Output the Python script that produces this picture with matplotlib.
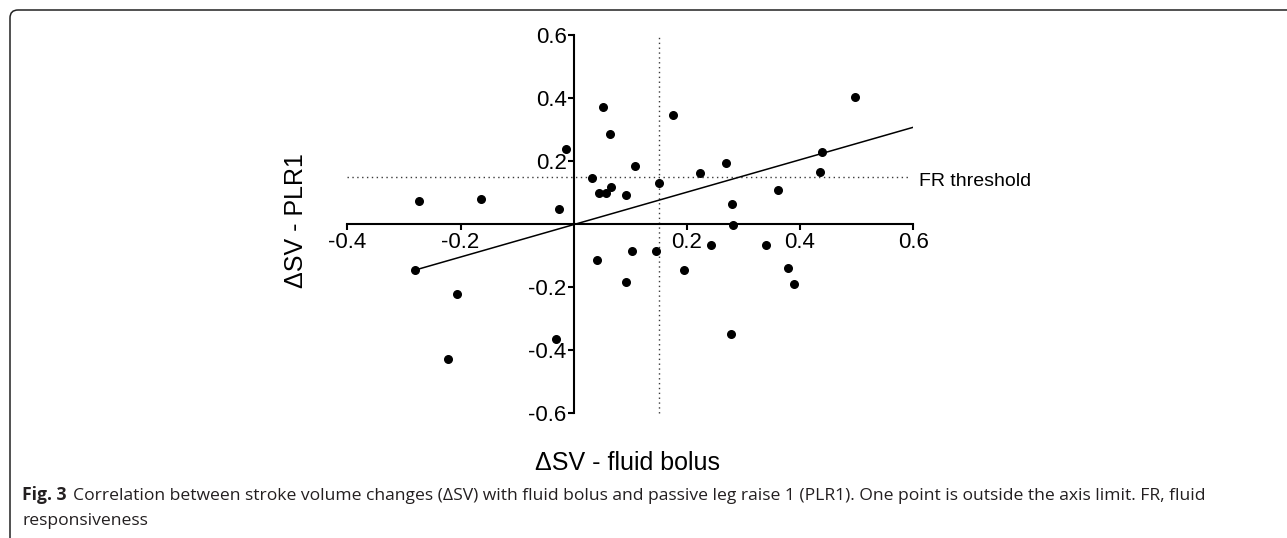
import numpy as np
import matplotlib
matplotlib.use("Agg")
import matplotlib.pyplot as plt
from matplotlib.patches import FancyBboxPatch
from matplotlib.transforms import IdentityTransform

plt.rcParams['font.family'] = ['Liberation Sans', 'DejaVu Sans']
plt.rcParams['axes.unicode_minus'] = False

# data
sv_bolus = [-0.273, -0.163, -0.026, -0.013, 0.051, 0.064, 0.033, 0.045, 0.058, 0.066,
            0.092, 0.109, 0.150, -0.280, -0.206, 0.042, 0.103, 0.092, 0.146, -0.222,
            -0.032, 0.175, 0.497, 0.439, 0.435, 0.269, 0.223, 0.361, 0.280, 0.282,
            0.242, 0.340, 0.195, 0.379, 0.390, 0.278]
sv_plr1 = [0.073, 0.079, 0.049, 0.238, 0.370, 0.285, 0.147, 0.099, 0.099, 0.117,
           0.093, 0.184, 0.129, -0.146, -0.222, -0.114, -0.087, -0.184, -0.087, -0.430,
           -0.366, 0.346, 0.402, 0.230, 0.165, 0.193, 0.161, 0.108, 0.062, -0.004,
           -0.068, -0.066, -0.145, -0.141, -0.190, -0.349]
fit_x = [-0.28, 0.60]
fit_y = [-0.146, 0.307]
fr_threshold = 0.15
xticks = [-0.4, -0.2, 0.2, 0.4, 0.6]
yticks = [-0.6, -0.4, -0.2, 0.2, 0.4, 0.6]

fig = plt.figure(figsize=(12.87, 5.38), dpi=100)
ax = fig.add_axes([0.2699, 0.2323, 0.4396, 0.7026])

ax.scatter(sv_bolus, sv_plr1, s=30, color='black', zorder=4, clip_on=False)
ax.plot(fit_x, fit_y, color='black', lw=1.1, zorder=3)
ax.plot([-0.4, 0.595], [fr_threshold, fr_threshold], color='#3a3a3a', lw=1.0,
        linestyle=(0, (1, 2.5)), clip_on=False)
ax.plot([fr_threshold, fr_threshold], [-0.6, 0.6], color='#3a3a3a', lw=1.0,
        linestyle=(0, (1, 2.5)), clip_on=False)
ax.text(0.61, 0.135, 'FR threshold', fontsize=14, va='center', ha='left')

ax.set_xlim(-0.4, 0.6)
ax.set_ylim(-0.6, 0.6)
for side in ['top', 'right']:
    ax.spines[side].set_visible(False)
ax.spines['left'].set_position(('data', 0))
ax.spines['bottom'].set_position(('data', 0))
for side in ['left', 'bottom']:
    ax.spines[side].set_linewidth(1.5)
ax.set_xticks(xticks)
ax.set_yticks(yticks)
ax.set_xticklabels([f'{v:.1f}' for v in xticks])
ax.set_yticklabels([f'{v:.1f}' for v in yticks])
ax.tick_params(axis='both', direction='out', length=4.5, width=1.5, labelsize=16)
ax.tick_params(axis='x', pad=1)
ax.tick_params(axis='y', pad=0.5)

ax.set_xlabel('\u0394SV - fluid bolus', fontsize=18, va='center')
ax.xaxis.set_label_coords(0.496, -0.132)
ax.set_ylabel('\u0394SV - PLR1', fontsize=18, va='center')
ax.yaxis.set_label_coords(-0.0907, 0.51)

# caption
cap_font = ['Open Sans', 'DejaVu Sans']
t1 = fig.text(22 / 1287, 1 - 500 / 538, 'Fig. 3', fontsize=12.6, weight='bold',
              family=cap_font, color='#231f20', va='baseline')
ax.annotate('Correlation between stroke volume changes (\u0394SV) with fluid bolus and passive '
            'leg raise 1 (PLR1). One point is outside the axis limit. FR, fluid',
            xy=(1, 0), xycoords=t1, xytext=(5, 0), textcoords='offset points',
            fontsize=12.6, family=cap_font, color='#231f20', va='bottom',
            annotation_clip=False)
fig.text(22 / 1287, 1 - 525 / 538, 'responsiveness', fontsize=12.6, family=cap_font,
         color='#231f20', va='baseline')

# frame around the figure panel
frame = FancyBboxPatch((10, -60), 1400, 588, boxstyle='round,pad=0,rounding_size=8',
                       transform=IdentityTransform(), fill=False, edgecolor='#222222',
                       lw=1.1)
fig.patches.append(frame)

fig.savefig('out.png', dpi=100)
